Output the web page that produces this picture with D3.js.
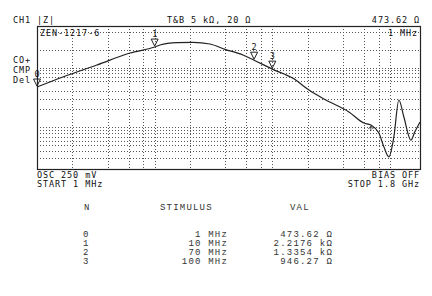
<!DOCTYPE html>
<html><head><meta charset="utf-8">
<script src="https://cdn.jsdelivr.net/npm/d3@7/dist/d3.min.js"></script>
<style>
body{margin:0;background:#fff}
svg{display:block}
.scr{font-family:"DejaVu Sans Mono",monospace;font-size:8.5px;letter-spacing:0.9px;fill:#111}
.tbl{font-family:"Liberation Mono","Courier New",monospace;font-size:9px;letter-spacing:1.2px;fill:#333}
</style></head>
<body><svg id="c" width="432" height="296"></svg>
<script>
// ---- data ----
const traceFreqMHz = [1, 1.66, 3.23, 6.17, 10, 11.1, 15.5, 21.2, 29.5, 39.6, 56.3, 70, 100, 150, 205, 285, 448, 600, 688, 805, 888, 979, 1079, 1190, 1313, 1506, 1628, 1800];
const traceOhm     = [473.62, 698, 1109, 1762, 2217.6, 2400, 2624, 2664, 2494, 2032, 1631, 1335.4, 946.27, 663, 422, 287, 181, 118, 109, 80, 47, 32, 69, 287, 149, 61, 84, 123];
const gridFreqMHz = [2, 4, 6, 8, 10, 20, 40, 60, 80, 100, 200, 400, 600, 800, 1000];
const gridOhm = [30, 40, 50, 60, 70, 80, 90, 100, 200, 300, 400, 600, 700, 800, 900, 1000, 2000, 4000];
const markerIds = ["0", "1", "2", "3"];
const markerFreqMHz = [1, 10, 70, 100];
const markerOhm = [473.62, 2217.6, 1335.4, 946.27];
const stimulusLabels = ["1 MHz", "10 MHz", "70 MHz", "100 MHz"];
const valueLabels = ["473.62 Ω", "2.2176 kΩ", "1.3354 kΩ", "946.27 Ω"];
const refArrowFreqMHz = [688];
const tableHeaders = ["N", "STIMULUS", "VAL"];

// ---- layout ----
const svg = d3.select("#c");
const L = 37, R = 420, T = 26, B = 169;
const x = d3.scaleLog().domain([1, 1800]).range([L, R]);
const y = d3.scaleLog().domain([20, 5000]).range([B, T]);

const g = svg.append("g");
// grid
g.selectAll(".vg").data(gridFreqMHz).join("line")
  .attr("x1", d => Math.round(x(d)) + 0.5).attr("x2", d => Math.round(x(d)) + 0.5)
  .attr("y1", T).attr("y2", B)
  .attr("stroke", "#555").attr("stroke-width", 1).attr("stroke-dasharray", "1,2");
g.selectAll(".hg").data(gridOhm).join("line")
  .attr("y1", d => Math.round(y(d)) + 0.5).attr("y2", d => Math.round(y(d)) + 0.5)
  .attr("x1", L).attr("x2", R)
  .attr("stroke", "#555").attr("stroke-width", 1).attr("stroke-dasharray", "1,2");
// frame
g.append("rect").attr("x", L + 0.5).attr("y", T + 0.5).attr("width", R - L).attr("height", B - T)
  .attr("fill", "none").attr("stroke", "#222").attr("stroke-width", 1.2);

// trace
const pts = traceFreqMHz.map((f, i) => [f, traceOhm[i]]);
g.append("path").datum(pts)
  .attr("d", d3.line().x(d => x(d[0])).y(d => y(d[1])).curve(d3.curveMonotoneX))
  .attr("fill", "none").attr("stroke", "#222").attr("stroke-width", 1.2);

// markers
const mk = markerIds.map((id, i) => ({id, f: markerFreqMHz[i], v: markerOhm[i]}));
const mg = g.selectAll(".mk").data(mk).join("g")
  .attr("transform", d => `translate(${x(d.f)},${y(d.v)})`);
mg.append("path").attr("d", "M-3.5,-8L3.5,-8L0,-1Z")
  .attr("fill", "none").attr("stroke", "#222").attr("stroke-width", 1);
mg.append("text").attr("class", "scr").attr("text-anchor", "middle")
  .attr("y", -10).attr("x", 0.5).text(d => d.id);

// reference arrow below trace
const interp = f => {
  const i = d3.bisectLeft(traceFreqMHz, f);
  const f0 = traceFreqMHz[i - 1], f1 = traceFreqMHz[i];
  const t = (Math.log(f) - Math.log(f0)) / (Math.log(f1) - Math.log(f0));
  return Math.exp(Math.log(traceOhm[i - 1]) * (1 - t) + Math.log(traceOhm[i]) * t);
};
g.selectAll(".ra").data(refArrowFreqMHz).join("path")
  .attr("transform", d => `translate(${x(d)},${y(interp(d)) + 1})`)
  .attr("d", "M-2.5,3L0,0L2.5,3M0,0L0,5")
  .attr("fill", "none").attr("stroke", "#333").attr("stroke-width", 0.9);

// screen texts
const txt = (s, tx, ty, anchor) => svg.append("text").attr("class", "scr")
  .attr("x", tx).attr("y", ty).attr("text-anchor", anchor || "start").text(s);
txt("CH1 |Z|", 13, 23);
txt("T&B  5 kΩ, 20 Ω", 167, 23);
txt("473.62 Ω", 420, 23, "end");
txt("ZEN-1217-6", 40, 36);
txt("1 MHz", 418, 36, "end");
txt("CO+", 13, 63);
txt("CMP", 13, 73);
txt("Del", 13, 83);
txt("OSC  250 mV", 37, 178);
txt("START  1 MHz", 37, 187);
txt("BIAS OFF", 420, 178, "end");
txt("STOP  1.8 GHz", 420, 187, "end");

// table
const hx = [84, 160, 290];
tableHeaders.forEach((h, i) => svg.append("text").attr("class", "tbl").attr("x", hx[i]).attr("y", 210).text(h));
const rowY = d3.scaleLinear().domain([0, 3]).range([237, 264]);
markerIds.forEach((id, i) => {
  svg.append("text").attr("class", "tbl").attr("x", 83).attr("y", rowY(i)).text(id);
  svg.append("text").attr("class", "tbl").attr("x", 228).attr("y", rowY(i)).attr("text-anchor", "end").text(stimulusLabels[i]);
  svg.append("text").attr("class", "tbl").attr("x", 333).attr("y", rowY(i)).attr("text-anchor", "end").text(valueLabels[i]);
});
</script></body></html>
